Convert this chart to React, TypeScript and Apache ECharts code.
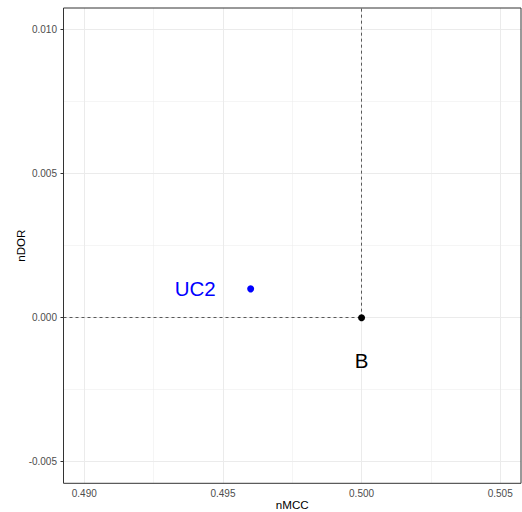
import React, { useEffect, useRef } from "react";
import * as echarts from "echarts";

const pointNames = ["UC2", "B"];
const pointX = [0.496, 0.5];
const pointY = [0.001, 0];
const pointColors = ["#0000FF", "#000000"];
const labelX = [0.494, 0.5];
const labelY = [0.001, -0.0015];

const xTicks = [0.49, 0.495, 0.5, 0.505];
const xMinor = [0.4925, 0.4975, 0.5025];
const yTicks = [-0.005, 0, 0.005, 0.01];
const yMinor = [-0.0025, 0.0025, 0.0075];

const xMin = 0.48925;
const xMax = 0.50575;
const yMin = -0.00575;
const yMax = 0.01075;

const refX = 0.5;
const refY = 0;

const FONT = "Liberation Sans, Arial, Helvetica, sans-serif";

export default function App() {
  const ref = useRef<HTMLDivElement>(null);
  useEffect(() => {
    if (!ref.current) return;
    const chart = echarts.init(ref.current, null, { renderer: "svg" });
    const vLine = (v: number, w: number) => [
      { coord: [v, yMin], lineStyle: { color: "#ebebeb", width: w, type: "solid" } },
      { coord: [v, yMax] },
    ];
    const hLine = (v: number, w: number) => [
      { coord: [xMin, v], lineStyle: { color: "#ebebeb", width: w, type: "solid" } },
      { coord: [xMax, v] },
    ];
    chart.setOption({
      animation: false,
      backgroundColor: "#ffffff",
      grid: {
        left: 63.5,
        right: 1,
        top: 8,
        bottom: 28.7,
        outerBoundsMode: "none",
        containLabel: false,
        show: true,
        borderColor: "#333333",
        borderWidth: 1,
        backgroundColor: "transparent",
        z: 30,
      },
      xAxis: {
        type: "value",
        min: xMin,
        max: xMax,
        name: "nMCC",
        nameLocation: "middle",
        nameGap: 15,
        nameMoveOverlap: false,
        nameTextStyle: { color: "#000", fontSize: 11.6, fontFamily: FONT },
        axisLine: { show: false },
        axisTick: {
          show: true,
          length: 3,
          lineStyle: { color: "#333333", width: 1 },
          customValues: xTicks,
        },
        axisLabel: {
          show: true,
          color: "#4d4d4d",
          fontSize: 10,
          fontFamily: FONT,
          margin: 5,
          customValues: xTicks,
          formatter: (v: number) => v.toFixed(3),
        },
        splitLine: { show: false },
      },
      yAxis: {
        type: "value",
        min: yMin,
        max: yMax,
        name: "nDOR",
        nameLocation: "middle",
        nameGap: 37,
        nameMoveOverlap: false,
        nameTextStyle: { color: "#000", fontSize: 11.6, fontFamily: FONT },
        axisLine: { show: false },
        axisTick: {
          show: true,
          length: 3,
          lineStyle: { color: "#333333", width: 1 },
          customValues: yTicks,
        },
        axisLabel: {
          show: true,
          color: "#4d4d4d",
          fontSize: 10,
          fontFamily: FONT,
          margin: 6.5,
          customValues: yTicks,
          formatter: (v: number) => v.toFixed(3),
        },
        splitLine: { show: false },
      },
      series: [
        {
          type: "scatter",
          data: [],
          z: 1,
          silent: true,
          markLine: {
            z: 1,
            silent: true,
            symbol: "none",
            label: { show: false },
            data: [
              ...xMinor.map((v) => vLine(v, 0.5)),
              ...yMinor.map((v) => hLine(v, 0.5)),
              ...xTicks.map((v) => vLine(v, 1)),
              ...yTicks.map((v) => hLine(v, 1)),
            ],
          },
        },
        {
          type: "scatter",
          data: [],
          z: 2,
          silent: true,
          markLine: {
            z: 2,
            silent: true,
            symbol: "none",
            label: { show: false },
            lineStyle: { color: "#333333", width: 0.8, type: [3, 3] },
            data: [
              [{ coord: [xMin, refY] }, { coord: [refX, refY] }],
              [{ coord: [refX, refY] }, { coord: [refX, yMax] }],
            ],
          },
        },
        {
          type: "scatter",
          z: 10,
          symbolSize: 7,
          itemStyle: { opacity: 1 },
          data: pointNames.map((n, i) => ({
            name: n,
            value: [pointX[i], pointY[i]],
            itemStyle: { color: pointColors[i], opacity: 1 },
          })),
        },
        {
          type: "scatter",
          z: 11,
          symbolSize: 0,
          itemStyle: { color: "transparent", opacity: 1 },
          data: pointNames.map((n, i) => ({
            name: n,
            value: [labelX[i], labelY[i]],
            label: {
              show: true,
              position: "inside",
              formatter: n,
              color: pointColors[i],
              opacity: 1,
              fontSize: 20.5,
              fontFamily: FONT,
            },
          })),
        },
      ],
    });
    return () => chart.dispose();
  }, []);
  return (
    <div
      ref={ref}
      style={{ position: "fixed", left: 0, top: 0, width: 522, height: 512 }}
    />
  );
}
